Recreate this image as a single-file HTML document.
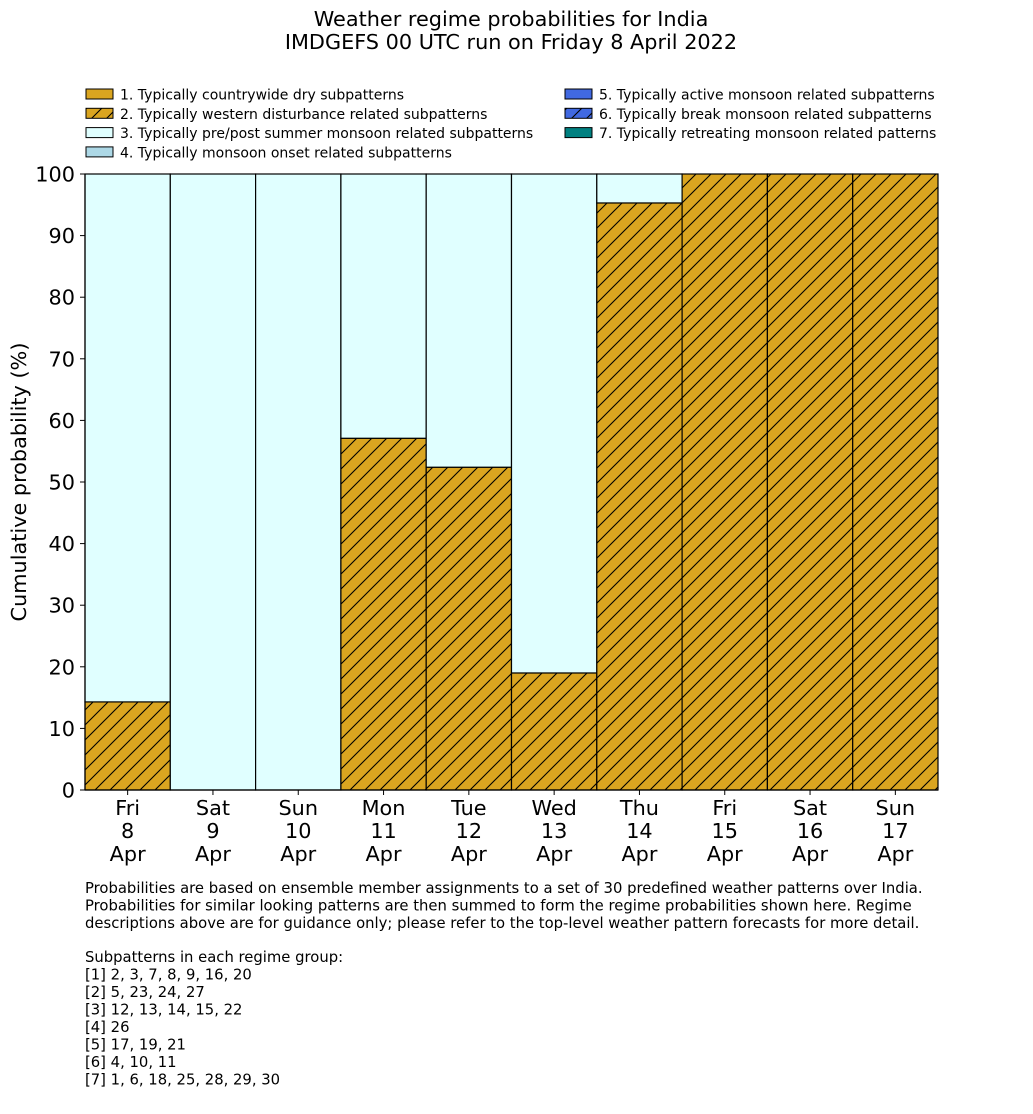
<!DOCTYPE html>
<html><head><meta charset="utf-8"><style>
html,body{margin:0;padding:0;background:#fff;}
svg{display:block;font-family:"DejaVu Sans","Liberation Sans",sans-serif;}
</style></head><body>
<svg id="chart" width="1033" height="1114" viewBox="0 0 1033 1114">
<defs>
<pattern id="hatch" patternUnits="userSpaceOnUse" width="15" height="15">
<rect width="15" height="15" fill="#DAA520"/>
<path d="M-2,17 L17,-2 M-5,5 L5,-5 M10,20 L20,10" stroke="#000" stroke-width="1.1"/>
</pattern>
<pattern id="hatchb" patternUnits="userSpaceOnUse" width="15" height="15">
<rect width="15" height="15" fill="#4169E1"/>
<path d="M-2,17 L17,-2 M-5,5 L5,-5 M10,20 L20,10" stroke="#000" stroke-width="1.1"/>
</pattern>
</defs>
<text x="511" y="26" text-anchor="middle" font-size="20.8">Weather regime probabilities for India</text>
<text x="511" y="49" text-anchor="middle" font-size="20.8">IMDGEFS 00 UTC run on Friday 8 April 2022</text>
<g id="legend" font-size="14"></g>
<g id="bars"></g>
<g id="axes"></g>
<text transform="translate(26,482) rotate(-90)" text-anchor="middle" font-size="20.8">Cumulative probability (%)</text>
<g font-size="14.8">
<text x="85" y="893">Probabilities are based on ensemble member assignments to a set of 30 predefined weather patterns over India.</text>
<text x="85" y="910.5">Probabilities for similar looking patterns are then summed to form the regime probabilities shown here. Regime</text>
<text x="85" y="928">descriptions above are for guidance only; please refer to the top-level weather pattern forecasts for more detail.</text>
<text x="85" y="962">Subpatterns in each regime group:</text>
<text x="85" y="979.5">[1] 2, 3, 7, 8, 9, 16, 20</text>
<text x="85" y="997">[2] 5, 23, 24, 27</text>
<text x="85" y="1014.5">[3] 12, 13, 14, 15, 22</text>
<text x="85" y="1032">[4] 26</text>
<text x="85" y="1049.5">[5] 17, 19, 21</text>
<text x="85" y="1067">[6] 4, 10, 11</text>
<text x="85" y="1084.5">[7] 1, 6, 18, 25, 28, 29, 30</text>
</g>
</svg>
<script>
const days = ["Fri","Sat","Sun","Mon","Tue","Wed","Thu","Fri","Sat","Sun"];
const dates = ["8","9","10","11","12","13","14","15","16","17"];
const westernDist = [14.3,0,0,57.1,52.4,19.0,95.3,100,100,100];
const preMonsoon = [85.7,100,100,42.9,47.6,81.0,4.7,0,0,0];
const yTicks = [0,10,20,30,40,50,60,70,80,90,100];
const legendLabels = ["1. Typically countrywide dry subpatterns","2. Typically western disturbance related subpatterns","3. Typically pre/post summer monsoon related subpatterns","4. Typically monsoon onset related subpatterns","5. Typically active monsoon related subpatterns","6. Typically break monsoon related subpatterns","7. Typically retreating monsoon related patterns"];
const legendFills = ["#DAA520","url(#hatch)","#E0FFFF","#ADD8E6","#4169E1","url(#hatchb)","#008080"];

const NS="http://www.w3.org/2000/svg";
const X0=85,X1=938,Y0=790,Y1=174;
const n=days.length, bw=(X1-X0)/n;
const xs=i=>X0+i*bw;
const ys=v=>Y0-(v/100)*(Y0-Y1);
function mk(tag,attrs,parent){const e=document.createElementNS(NS,tag);for(const k in attrs)e.setAttribute(k,attrs[k]);parent.appendChild(e);return e;}

const bars=document.getElementById('bars');
for(let i=0;i<n;i++){
  let base=0;
  if(westernDist[i]>0){
    const r=mk('rect',{x:xs(i),y:ys(base+westernDist[i]),width:bw,height:ys(base)-ys(base+westernDist[i]),fill:'url(#hatch)',stroke:'#000','stroke-width':1.2},bars);
    
    
    base+=westernDist[i];
  }
  if(preMonsoon[i]>0){
    const r=mk('rect',{x:xs(i),y:ys(base+preMonsoon[i]),width:bw,height:ys(base)-ys(base+preMonsoon[i]),fill:'#E0FFFF',stroke:'#000','stroke-width':1.2},bars);
    
    
  }
}
const axes=document.getElementById('axes');
mk('line',{x1:X0,y1:Y1,x2:X0,y2:Y0,stroke:'#000','stroke-width':1.2},axes);
mk('line',{x1:X0,y1:Y0,x2:X1,y2:Y0,stroke:'#000','stroke-width':1.2},axes);
yTicks.forEach(t=>{
  mk('line',{x1:X0-5,y1:ys(t),x2:X0,y2:ys(t),stroke:'#000'},axes);
  const tx=mk('text',{x:X0-10,y:ys(t)+7.5,'text-anchor':'end','font-size':20.8},axes);
  tx.textContent=t;
  
  
});
for(let i=0;i<n;i++){
  const cx=xs(i)+bw/2;
  mk('line',{x1:cx,y1:Y0,x2:cx,y2:Y0+5,stroke:'#000'},axes);
  [days[i],dates[i],"Apr"].forEach((s,j)=>{
    const tx=mk('text',{x:cx,y:Y0+25+j*23,'text-anchor':'middle','font-size':20.8},axes);
    tx.textContent=s;
    
    
  });
}
const lg=document.getElementById('legend');
legendLabels.forEach((s,i)=>{
  const col=i<4?0:1, row=i<4?i:i-4;
  const x=col?565:86, y=89+row*19.3;
  const r=mk('rect',{x:x,y:y,width:27,height:10,fill:legendFills[i],stroke:'#000','stroke-width':1},lg);
  
  
  const t=mk('text',{x:x+34,y:y+10.5},lg);
  t.textContent=s;
  
  
});
</script>
</body></html>
